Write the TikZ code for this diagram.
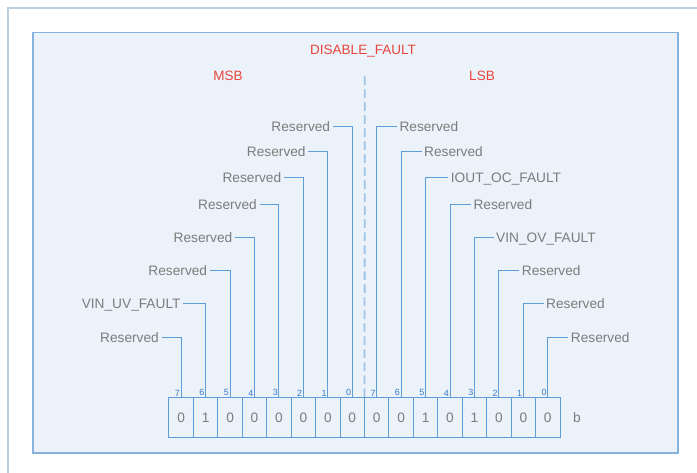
\documentclass[tikz,border=0pt]{standalone}
\usepackage{fontspec}
\setmainfont{Liberation Sans}
\usetikzlibrary{positioning}

\definecolor{panelfill}{HTML}{EBF2F9}
\definecolor{panelline}{HTML}{86B2DE}
\definecolor{frameline}{HTML}{BCCFDA}
\definecolor{wireblue}{HTML}{5F9DD8}
\definecolor{numblue}{HTML}{3A7AC6}
\definecolor{labelgray}{HTML}{7C7C7C}
\definecolor{hdrred}{HTML}{E8453C}
\definecolor{dashblue}{HTML}{9EC4E8}

\tikzset{
  lbl/.style={text=labelgray, font=\fontsize{13.7}{13.7}\selectfont, inner sep=2.5pt, text height=9.8pt, text depth=0pt},
  hdr/.style={text=hdrred, font=\fontsize{13.5}{13.5}\selectfont, inner sep=0pt},
  bitbox/.style={draw=wireblue, line width=1pt, minimum width=24.44pt, minimum height=40.5pt, inner sep=0pt, outer sep=0pt, text=labelgray, font=\fontsize{13.7}{13.7}\selectfont},
  bitno/.style={text=numblue, font=\fontsize{9}{9}\selectfont, inner sep=1pt, anchor=south east},
  wire/.style={draw=wireblue, line width=1pt},
}

\begin{document}
\begin{tikzpicture}[x=1pt,y=-1pt]
\fill[white] (0,0) rectangle (697,473);
\useasboundingbox (0,0) rectangle (697,473);

% frame and panel
\draw[frameline, line width=1.2pt] (8,473) -- (8,8) -- (697,8);
\draw[panelline, fill=panelfill, line width=1.3pt] (33,32.5) rectangle (678,453);

\node[hdr] (dis) at (363,51) {DISABLE\_FAULT};
\node[hdr] (msb) at (228,76) {MSB};
\node[hdr] (lsb) at (482,76) {LSB};

%--------------------------------------------------------
% register cells, MSB byte
\node[bitbox] (m7) at (181.2,417.5) {0};
\node[bitbox, right=0pt of m7] (m6) {1};
\node[bitbox, right=0pt of m6] (m5) {0};
\node[bitbox, right=0pt of m5] (m4) {0};
\node[bitbox, right=0pt of m4] (m3) {0};
\node[bitbox, right=0pt of m3] (m2) {0};
\node[bitbox, right=0pt of m2] (m1) {0};
\node[bitbox, right=0pt of m1] (m0) {0};
% LSB byte
\node[bitbox, right=0pt of m0] (l7) {0};
\node[bitbox, right=0pt of l7] (l6) {0};
\node[bitbox, right=0pt of l6] (l5) {1};
\node[bitbox, right=0pt of l5] (l4) {0};
\node[bitbox, right=0pt of l4] (l3) {1};
\node[bitbox, right=0pt of l3] (l2) {0};
\node[bitbox, right=0pt of l2] (l1) {0};
\node[bitbox, right=0pt of l1] (l0) {0};
\node[lbl] (unit) at (577,417.5) {b};

% bit numbers
\node[bitno] (nm7) at (m7.north) {7};
\node[bitno] (nm6) at (m6.north) {6};
\node[bitno] (nm5) at (m5.north) {5};
\node[bitno] (nm4) at (m4.north) {4};
\node[bitno] (nm3) at (m3.north) {3};
\node[bitno] (nm2) at (m2.north) {2};
\node[bitno] (nm1) at (m1.north) {1};
\node[bitno] (nm0) at (m0.north) {0};
\node[bitno] (nl7) at (l7.north) {7};
\node[bitno] (nl6) at (l6.north) {6};
\node[bitno] (nl5) at (l5.north) {5};
\node[bitno] (nl4) at (l4.north) {4};
\node[bitno] (nl3) at (l3.north) {3};
\node[bitno] (nl2) at (l2.north) {2};
\node[bitno] (nl1) at (l1.north) {1};
\node[bitno] (nl0) at (l0.north) {0};

% byte divider
\coordinate (dtop) at (364.8,76.5);
\draw[dashblue, line width=1.8pt, dash pattern=on 8.5pt off 4.5pt] (dtop) -- (m0.north east);

%--------------------------------------------------------
% MSB field names
\node[lbl, left] (fm0) at (332.8,127) {Reserved};
\node[lbl, left] (fm1) at (308.3,152) {Reserved};
\node[lbl, left] (fm2) at (283.9,178) {Reserved};
\node[lbl, left] (fm3) at (259.5,205) {Reserved};
\node[lbl, left] (fm4) at (235,238) {Reserved};
\node[lbl, left] (fm5) at (209.8,270.5) {Reserved};
\node[lbl, left] (fm6) at (183.2,303.5) {VIN\_UV\_FAULT};
\node[lbl, left] (fm7) at (161.5,337.5) {Reserved};

\draw[wire] (fm0) -| (m0);
\draw[wire] (fm1) -| (m1);
\draw[wire] (fm2) -| (m2);
\draw[wire] (fm3) -| (m3);
\draw[wire] (fm4) -| (m4);
\draw[wire] (fm5) -| (m5);
\draw[wire] (fm6) -| (m6);
\draw[wire] (fm7) -| (m7);

% LSB field names
\node[lbl, right] (fl7) at (396.8,127) {Reserved};
\node[lbl, right] (fl6) at (421.5,152) {Reserved};
\node[lbl, right] (fl5) at (448.2,178) {IOUT\_OC\_FAULT};
\node[lbl, right] (fl4) at (470.8,205) {Reserved};
\node[lbl, right] (fl3) at (493.5,238) {VIN\_OV\_FAULT};
\node[lbl, right] (fl2) at (519.2,270.5) {Reserved};
\node[lbl, right] (fl1) at (543.5,303.5) {Reserved};
\node[lbl, right] (fl0) at (568.2,337.5) {Reserved};

\draw[wire] (fl7) -| (l7);
\draw[wire] (fl6) -| (l6);
\draw[wire] (fl5) -| (l5);
\draw[wire] (fl4) -| (l4);
\draw[wire] (fl3) -| (l3);
\draw[wire] (fl2) -| (l2);
\draw[wire] (fl1) -| (l1);
\draw[wire] (fl0) -| (l0);
\end{tikzpicture}
\end{document}
